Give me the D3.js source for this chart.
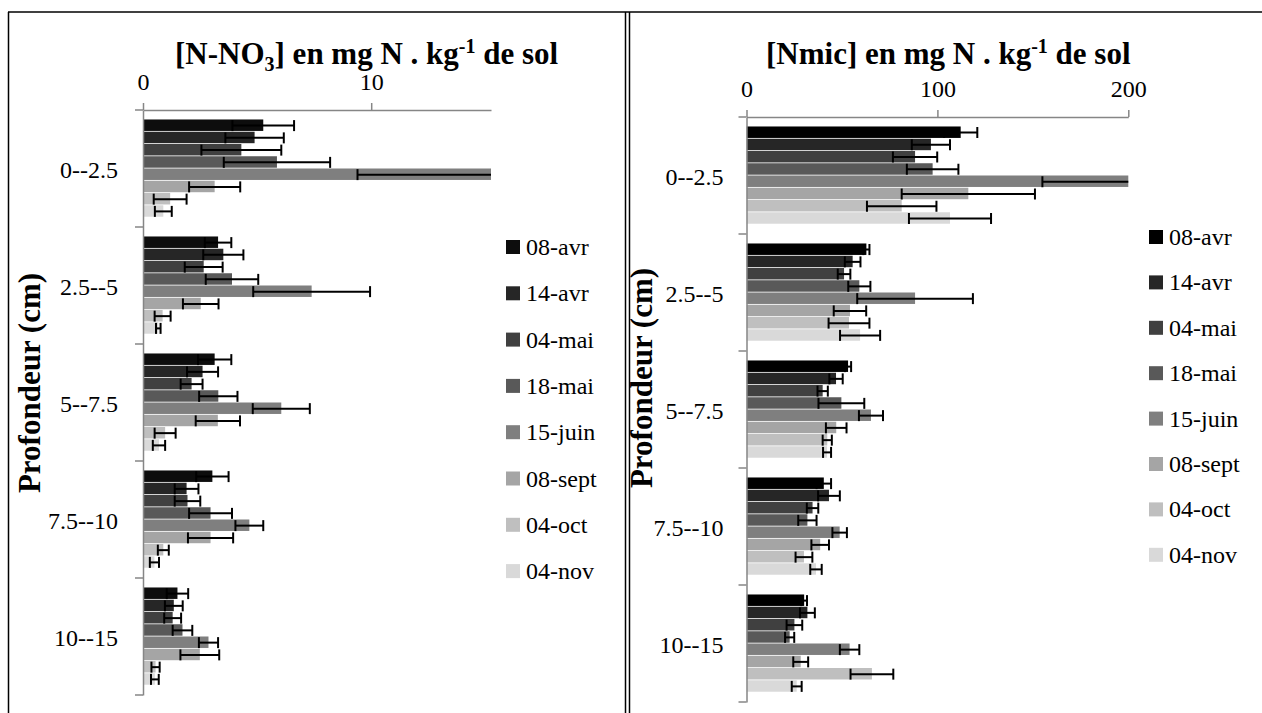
<!DOCTYPE html>
<html>
<head>
<meta charset="utf-8">
<script src="https://cdn.jsdelivr.net/npm/d3@7"></script>
<style>
  body { margin: 0; background: #fff; }
  svg, svg text { font-family: "Liberation Serif", "Times New Roman", serif; }
</style>
</head>
<body>
<div id="chart"></div>
<script>
const depths = ["0--2.5", "2.5--5", "5--7.5", "7.5--10", "10--15"];
const dates = ["08-avr", "14-avr", "04-mai", "18-mai", "15-juin", "08-sept", "04-oct", "04-nov"];

// one row per depth, one column per date
const no3Mean = [
  [5.27, 4.89, 4.31, 5.87, 15.8, 3.14, 1.19, 0.89],
  [3.29, 3.52, 2.66, 3.90, 7.39, 2.53, 0.86, 0.67],
  [3.14, 2.61, 2.13, 3.30, 6.06, 3.28, 0.97, 0.70],
  [3.04, 1.91, 1.95, 2.96, 4.66, 2.96, 0.89, 0.50],
  [1.51, 1.35, 1.30, 1.73, 2.87, 2.49, 0.55, 0.52]
];
const no3Err = [
  [1.35, 1.28, 1.75, 2.33, 6.4, 1.12, 0.72, 0.37],
  [0.58, 0.88, 0.83, 1.15, 2.56, 0.78, 0.35, 0.10],
  [0.73, 0.68, 0.48, 0.84, 1.25, 0.97, 0.46, 0.27],
  [0.71, 0.52, 0.56, 0.94, 0.61, 0.99, 0.24, 0.20],
  [0.47, 0.39, 0.37, 0.43, 0.42, 0.85, 0.18, 0.17]
];
const nmicMean = [
  [112.2, 96.6, 88.3, 97.5, 202, 116.2, 81.3, 106.6],
  [62.8, 55.6, 51.1, 59.1, 88.3, 54.2, 53.7, 59.5],
  [53.2, 46.9, 39.9, 49.7, 65.2, 47.0, 42.3, 42.2],
  [40.5, 43.2, 34.6, 31.9, 48.8, 38.6, 30.1, 36.4],
  [30.2, 31.9, 25.1, 22.6, 54.0, 28.4, 65.7, 26.3]
];
const nmicErr = [
  [8.7, 10.0, 11.6, 13.5, 47, 34.9, 18.2, 21.5],
  [1.6, 4.1, 3.3, 5.8, 30.3, 8.5, 10.7, 10.5],
  [1.6, 3.5, 2.7, 12.0, 6.3, 5.4, 2.4, 2.1],
  [3.8, 5.7, 3.0, 4.8, 3.8, 4.6, 4.4, 3.0],
  [1.5, 3.9, 4.1, 2.4, 5.1, 3.9, 11.2, 2.6]
];
const no3Ticks = [0, 10];
const nmicTicks = [0, 100, 200];

const GREYS = ["#0d0d0d", "#262626", "#404040", "#595959", "#7f7f7f", "#a5a5a5", "#bfbfbf", "#d9d9d9"];
const GREYS_R = ["#000000", "#262626", "#404040", "#595959", "#7f7f7f", "#a5a5a5", "#bfbfbf", "#d9d9d9"];
const AXIS = "#868686";
const SERIF = "'Liberation Serif', 'Times New Roman', serif";

const svg = d3.select("#chart").append("svg")
    .attr("width", 1262)
    .attr("height", 713)
    .attr("font-family", SERIF);

// frame
svg.append("line").attr("x1", 8).attr("x2", 1262).attr("y1", 12).attr("y2", 12)
    .attr("stroke", "#000").attr("stroke-width", 1.5);
[8.5, 625.5, 629.5].forEach(x => {
    svg.append("line").attr("x1", x).attr("x2", x).attr("y1", 12).attr("y2", 713)
        .attr("stroke", "#000").attr("stroke-width", 1.5);
});

function panel(opt) {
    const x = d3.scaleLinear().domain(opt.domain).range([opt.x0, opt.x1]);
    const y = d3.scaleBand().domain(depths).range([opt.y0, opt.y1])
        .paddingInner(0.162).paddingOuter(0.081);
    const ys = d3.scaleBand().domain(dates).range([0, y.bandwidth()]);
    const g = svg.append("g");

    const clipId = "clip" + opt.id;
    svg.append("clipPath").attr("id", clipId).append("rect")
        .attr("x", opt.x0).attr("y", opt.y0)
        .attr("width", opt.x1 - opt.x0).attr("height", opt.y1 - opt.y0);

    const rows = depths.map((d, i) => dates.map((s, j) => ({
        depth: d, date: s, j: j, v: opt.mean[i][j], e: opt.err[i][j]
    }))).flat();

    const plot = g.append("g").attr("clip-path", `url(#${clipId})`);

    plot.selectAll("rect.bar").data(rows).enter().append("rect")
        .attr("class", "bar")
        .attr("x", x(0))
        .attr("y", d => y(d.depth) + ys(d.date))
        .attr("width", d => x(d.v) - x(0))
        .attr("height", ys.bandwidth() - 0.8)
        .attr("fill", d => opt.colors[d.j]);

    const eb = plot.selectAll("g.err").data(rows).enter().append("g")
        .attr("class", "err")
        .attr("transform", d => `translate(0, ${y(d.depth) + ys(d.date) + ys.bandwidth() / 2})`);
    eb.append("line")
        .attr("x1", d => x(d.v - d.e)).attr("x2", d => x(d.v + d.e))
        .attr("stroke", "#000").attr("stroke-width", 2);
    eb.append("line")
        .attr("x1", d => x(d.v - d.e)).attr("x2", d => x(d.v - d.e))
        .attr("y1", -5.5).attr("y2", 5.5)
        .attr("stroke", "#000").attr("stroke-width", 2);
    eb.append("line")
        .attr("x1", d => x(d.v + d.e)).attr("x2", d => x(d.v + d.e))
        .attr("y1", -5.5).attr("y2", 5.5)
        .attr("stroke", "#000").attr("stroke-width", 2);

    // value axis on top
    const xAxis = g.append("g")
        .attr("transform", `translate(0, ${opt.y0})`)
        .call(d3.axisTop(x).tickValues(opt.ticks).tickSize(7).tickSizeOuter(0).tickPadding(13));
    xAxis.attr("font-family", SERIF).attr("font-size", 24);
    xAxis.select(".domain").attr("stroke", AXIS).attr("stroke-width", 1.5);
    xAxis.selectAll(".tick line").attr("stroke", AXIS).attr("stroke-width", 1.5);
    xAxis.selectAll(".tick text").attr("fill", "#000");

    // category axis
    const yAxis = g.append("g")
        .attr("transform", `translate(${opt.x0}, 0)`)
        .call(d3.axisLeft(y).tickSize(0).tickPadding(opt.labelPad));
    yAxis.attr("font-family", SERIF).attr("font-size", 24);
    yAxis.select(".domain").attr("stroke", AXIS).attr("stroke-width", 1.5);
    yAxis.selectAll(".tick text").attr("fill", "#000").attr("dy", "0.4em");
    const bounds = depths.map(d => y(d) - y.step() * 0.081).concat([opt.y1]);
    yAxis.selectAll("line.bound").data(bounds).enter().append("line")
        .attr("class", "bound")
        .attr("x1", -8).attr("x2", 0)
        .attr("y1", d => d).attr("y2", d => d)
        .attr("stroke", AXIS).attr("stroke-width", 1.5);

    // title
    const t = g.append("text")
        .attr("x", opt.titleX).attr("y", 64)
        .attr("font-size", 31).attr("font-weight", "bold");
    opt.title(t);

    g.append("text")
        .attr("transform", `translate(${opt.ylabX}, ${opt.ylabY}) rotate(-90)`)
        .attr("text-anchor", "middle")
        .attr("font-size", 31).attr("font-weight", "bold")
        .text("Profondeur (cm)");

    // legend
    const lg = g.selectAll("g.leg").data(dates).enter().append("g")
        .attr("class", "leg")
        .attr("transform", (d, i) => `translate(${opt.legX}, ${opt.legY + i * opt.legStep})`);
    lg.append("rect").attr("x", 0).attr("y", -7).attr("width", 14).attr("height", 14)
        .attr("fill", (d, i) => opt.colors[i]);
    lg.append("text").attr("x", 20).attr("y", 8)
        .attr("font-size", 24).text(d => d);
}

panel({
    id: "no3", mean: no3Mean, err: no3Err, ticks: no3Ticks, colors: GREYS,
    domain: [0, 15.25], x0: 143, x1: 491, y0: 110, y1: 695, labelPad: 25,
    titleX: 175,
    title: t => {
        t.append("tspan").text("[N-NO");
        t.append("tspan").attr("font-size", 20).attr("dy", 7).text("3");
        t.append("tspan").attr("dy", -7).text("] en mg N . kg");
        t.append("tspan").attr("font-size", 20).attr("dy", -11).text("-1");
        t.append("tspan").attr("dy", 11).text(" de sol");
    },
    ylabX: 40, ylabY: 383,
    legX: 506, legY: 247, legStep: 46.3
});

panel({
    id: "nmic", mean: nmicMean, err: nmicErr, ticks: nmicTicks, colors: GREYS_R,
    domain: [0, 200], x0: 746.5, x1: 1128.3, y0: 117, y1: 702, labelPad: 23,
    titleX: 766,
    title: t => {
        t.append("tspan").text("[Nmic] en mg N . kg");
        t.append("tspan").attr("font-size", 20).attr("dy", -11).text("-1");
        t.append("tspan").attr("dy", 11).text(" de sol");
    },
    ylabX: 652, ylabY: 378,
    legX: 1149, legY: 237, legStep: 45.4
});
</script>
</body>
</html>
